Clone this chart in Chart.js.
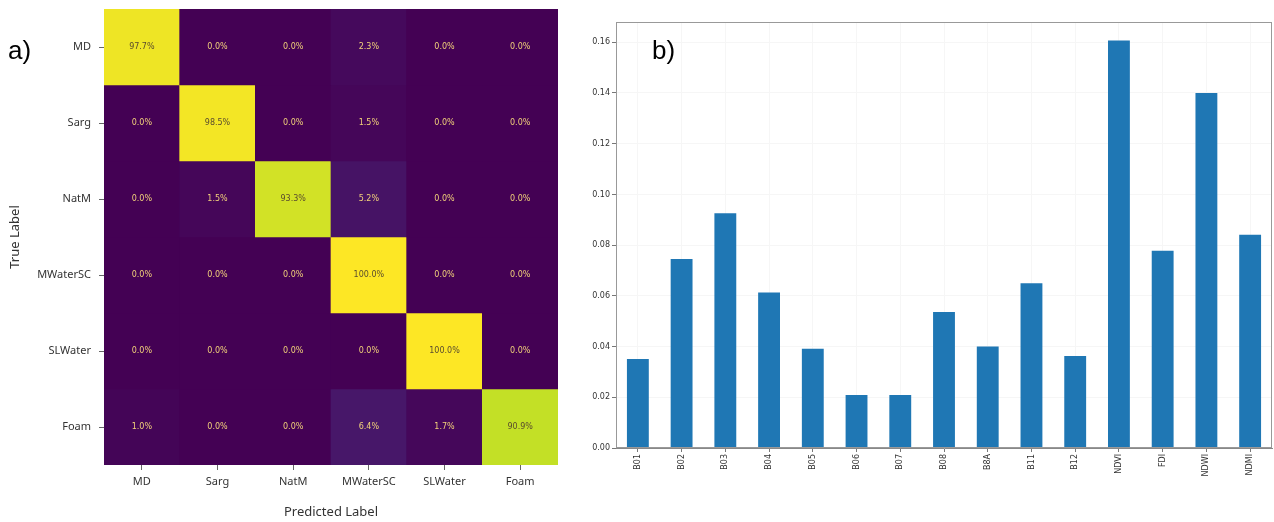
<!DOCTYPE html>
<html>
<head>
<meta charset="utf-8">
<script src="https://cdn.jsdelivr.net/npm/chart.js@4.4.1/dist/chart.umd.min.js"></script>
<style>
body{margin:0;background:#fff;width:1274px;height:522px;overflow:hidden;position:relative}
#wrapA{position:absolute;left:0;top:0;width:560px;height:522px}
#wrapB{position:absolute;left:560px;top:0;width:714px;height:522px}
</style>
</head>
<body>
<div id="wrapA"><canvas id="chartCM"></canvas></div>
<div id="wrapB"><canvas id="chartImp"></canvas></div>
<script>
// confusion matrix (percent, rows = true label)
var classLabels=["MD","Sarg","NatM","MWaterSC","SLWater","Foam"];
var rowMD=[97.7,0.0,0.0,2.3,0.0,0.0];
var rowSarg=[0.0,98.5,0.0,1.5,0.0,0.0];
var rowNatM=[0.0,1.5,93.3,5.2,0.0,0.0];
var rowMWaterSC=[0.0,0.0,0.0,100.0,0.0,0.0];
var rowSLWater=[0.0,0.0,0.0,0.0,100.0,0.0];
var rowFoam=[1.0,0.0,0.0,6.4,1.7,90.9];
var cmRows=[rowMD,rowSarg,rowNatM,rowMWaterSC,rowSLWater,rowFoam];

// feature importance
var bandLabels=["B01","B02","B03","B04","B05","B06","B07","B08","B8A","B11","B12","NDVI","FDI","NDWI","NDMI"];
var importance=[0.0351,0.0745,0.0926,0.0613,0.0391,0.0209,0.0209,0.0536,0.0400,0.0650,0.0363,0.1607,0.0778,0.1400,0.0841];
var impTicks=[0,0.02,0.04,0.06,0.08,0.10,0.12,0.14,0.16];

// viridis colormap stops
var vir=["#440154","#482475","#414487","#355f8d","#2a788e","#21918c","#22a884","#44bf70","#7ad151","#bddf26","#fde725"];
function hex(h){return [parseInt(h.substr(1,2),16),parseInt(h.substr(3,2),16),parseInt(h.substr(5,2),16)]}
function viridis(t){
  t=Math.max(0,Math.min(1,t));
  var p=t*10,i=Math.min(9,Math.floor(p)),f=p-i;
  var a=hex(vir[i]),b=hex(vir[i+1]);
  return "rgb("+Math.round(a[0]+(b[0]-a[0])*f)+","+Math.round(a[1]+(b[1]-a[1])*f)+","+Math.round(a[2]+(b[2]-a[2])*f)+")";
}

var cmText={
  id:"cmText",
  afterDatasetsDraw:function(chart){
    var ctx=chart.ctx,xs=chart.scales.x,ys=chart.scales.y;
    ctx.save();
    ctx.font="8px 'DejaVu Sans'";
    ctx.textAlign="center";ctx.textBaseline="middle";
    for(var r=0;r<cmRows.length;r++){
      for(var c=0;c<cmRows[r].length;c++){
        var v=cmRows[r][c];
        ctx.fillStyle=v>50?"#5a4c2e":"#f2d27a";
        ctx.fillText(v.toFixed(1)+"%",xs.getPixelForValue(c),ys.getPixelForValue(r+0.5));
      }
    }
    ctx.font="26px 'Liberation Sans'";
    ctx.fillStyle="#000";ctx.textAlign="left";
    ctx.fillText("a)",8,52);
    ctx.restore();
  }
};

var frame={
  id:"frame",
  afterDraw:function(chart){
    var ctx=chart.ctx,a=chart.chartArea;
    ctx.save();
    ctx.strokeStyle="#999";ctx.lineWidth=1;
    ctx.strokeRect(a.left+0.5,a.top+0.5,a.right-a.left-1,a.bottom-a.top-1);
    ctx.font="26px 'Liberation Sans'";
    ctx.fillStyle="#000";ctx.textBaseline="middle";
    ctx.fillText("b)",92,52);
    ctx.restore();
  }
};

new Chart(document.getElementById("chartCM"),{
  type:"bar",
  data:{
    labels:classLabels,
    datasets:cmRows.map(function(row,r){
      return {
        label:classLabels[r],
        data:row.map(function(){return [r,r+1]}),
        backgroundColor:row.map(function(v){return viridis(v/100)}),
        borderWidth:0,
        grouped:false,
        barPercentage:1,
        categoryPercentage:1
      };
    })
  },
  options:{
    responsive:true,maintainAspectRatio:false,animation:false,
    layout:{padding:{top:9,right:2,left:7,bottom:0}},
    plugins:{legend:{display:false},tooltip:{enabled:false}},
    scales:{
      x:{
        afterFit:function(s){s.height=57;s.paddingLeft=0;s.paddingRight=0},
        border:{display:false},
        grid:{drawOnChartArea:false,drawTicks:true,tickLength:5,tickColor:"#666",offset:false},
        ticks:{font:{size:11,family:"'Noto Sans'"},color:"#333",padding:5},
        title:{display:true,text:"Predicted Label",font:{size:13,family:"'Noto Sans'"},color:"#333",padding:{top:0,bottom:2}}
      },
      y:{
        type:"linear",min:0,max:6,reverse:true,
        afterFit:function(s){s.width=97;s.paddingTop=0;s.paddingBottom=0},
        afterBuildTicks:function(s){s.ticks=classLabels.map(function(_,i){return {value:i+0.5}})},
        border:{display:false},
        grid:{drawOnChartArea:false,drawTicks:true,tickLength:5,tickColor:"#666"},
        ticks:{font:{size:11,family:"'Noto Sans'"},color:"#333",padding:8,callback:function(v,i){return classLabels[i]}},
        title:{display:true,text:"True Label",font:{size:13,family:"'Noto Sans'"},color:"#333",padding:0}
      }
    }
  },
  plugins:[cmText]
});

new Chart(document.getElementById("chartImp"),{
  type:"bar",
  data:{
    labels:bandLabels,
    datasets:[{data:importance,backgroundColor:"#1f77b4",borderWidth:0,barPercentage:0.5,categoryPercentage:1}]
  },
  options:{
    responsive:true,maintainAspectRatio:false,animation:false,
    layout:{padding:{top:22,right:2,left:0,bottom:0}},
    plugins:{legend:{display:false},tooltip:{enabled:false}},
    scales:{
      x:{
        afterFit:function(s){s.height=74},
        border:{color:"#888"},
        grid:{color:"#f6f6f6",offset:false,tickLength:4,tickColor:"#777"},
        ticks:{font:{size:8,family:"'DejaVu Sans'"},color:"#333",maxRotation:90,minRotation:90,autoSkip:false,padding:2}
      },
      y:{
        min:0,max:0.168,
        afterFit:function(s){s.width=56},
        afterBuildTicks:function(s){s.ticks=impTicks.map(function(v){return {value:v}})},
        border:{color:"#888"},
        grid:{color:"#f6f6f6",tickLength:4,tickColor:"#777"},
        ticks:{font:{size:8,family:"'DejaVu Sans'"},color:"#333",padding:2,callback:function(v){return v.toFixed(2)}}
      }
    }
  },
  plugins:[frame]
});
</script>
</body>
</html>
